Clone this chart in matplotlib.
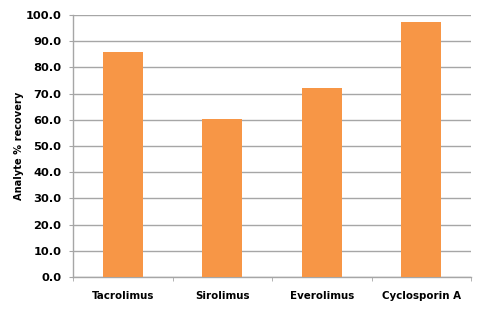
import matplotlib as mpl
mpl.use('Agg')
import matplotlib.pyplot as plt
import numpy as np

# data
drugs = ['Tacrolimus', 'Sirolimus', 'Everolimus', 'Cyclosporin A']
recovery = [85.8, 60.3, 72.1, 97.4]
yticks = np.arange(0, 101, 10)

W, H = 487, 312
fig = plt.figure(figsize=(W / 100, H / 100), dpi=100)
ax = fig.add_axes([73 / W, 1 - 277 / H, (471 - 73) / W, (277 - 15) / H])

x = np.arange(len(drugs))
ax.bar(x, recovery, width=0.4, color='#F79646', zorder=3)

ax.set_xlim(-0.5, len(drugs) - 0.5)
ax.set_ylim(0, 100)
ax.set_yticks(yticks)
ax.set_yticklabels(['%.1f' % v for v in yticks], fontsize=8.2, fontweight='bold')
ax.set_xticks(x)
ax.set_xticklabels(drugs, fontsize=7.4, fontweight='bold')
ax.set_xticks(np.arange(-0.5, len(drugs)), minor=True)

ax.grid(axis='y', color='#A6A6A6', linewidth=1.0, zorder=0)
for s in ['top', 'right']:
  ax.spines[s].set_visible(False)
for s in ['left', 'bottom']:
  ax.spines[s].set_color('#A6A6A6')
  ax.spines[s].set_linewidth(1.0)

ax.tick_params(axis='y', length=3, color='#A6A6A6', pad=5.5)
ax.tick_params(axis='x', which='major', length=0, pad=10)
ax.tick_params(axis='x', which='minor', length=3, color='#A6A6A6')

ax.set_ylabel('Analyte % recovery', fontsize=7.1, fontweight='bold', labelpad=1)

fig.savefig('out.png', dpi=100)
